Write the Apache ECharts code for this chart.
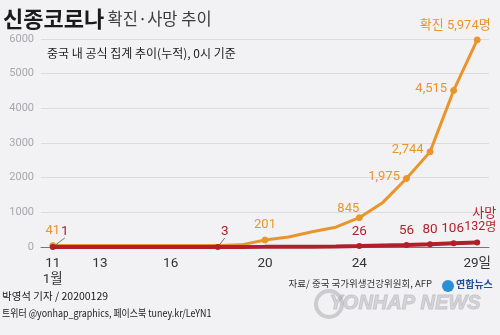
<!DOCTYPE html>
<html><head><meta charset="utf-8">
<script src="https://cdn.jsdelivr.net/npm/echarts@6/dist/echarts.min.js"></script>
<style>html,body{margin:0;padding:0;background:#f2f2f4}#c{width:500px;height:335px}</style>
</head><body><div id="c"></div>
<script>
const days = [11,12,13,14,15,16,17,18,19,20,21,22,23,24,25,26,27,28,29];
const confirmed = [41,41,41,41,41,41,41,45,62,201,291,440,571,845,1287,1975,2744,4515,5974];
const deaths = [1,1,1,1,1,1,1,3,3,4,6,9,17,26,41,56,80,106,132];
const shownDays = [11,13,16,20,24,29];
const confirmedMarked = [11,20,24,26,27,28,29];
const deathsMarked = [11,18,24,26,27,28,29];
const yTicks = [0,1000,2000,3000,4000,5000,6000];

const FONT = '"Noto Sans CJK KR", sans-serif';
const NUMFONT = '"Liberation Sans Narrow", Roboto, "Noto Sans CJK KR", sans-serif';
const ORANGE = '#e8952c';
const RED = '#b11f2a';

function fmt(n){return n.toLocaleString('en-US');}

// label nudges (style only), keyed by "series-day"
const nudges = {
  '0-24': {dx:-11, dy:6},
  '0-26': {dx:2, dy:-2},
  '0-27': {dx:2, dy:-2},
  '0-28': {dx:2, dy:-2},
  '0-29': {dx:-22, dy:1},
  '1-11': {dx:12, dy:-1},
  '1-18': {dx:7, dy:-1},
  '1-28': {dx:-1, dy:0},
  '1-29': {dx:3, dy:0}
};

const confData = confirmed.map((v,i)=>{
  const d = days[i];
  const item = {value: v};
  if (confirmedMarked.includes(d)) {
    item.symbol = 'circle';
    if (d === 29) {
      item.label = {show:true, formatter:'확진 ' + fmt(v) + '명', position:'top'};
    } else if (d === 26 || d === 27 || d === 28) {
      item.label = {show:true, position:'left'};
    } else {
      item.label = {show:true, position:'top'};
    }
  } else {
    item.symbol = 'none';
  }
  return item;
});
const deathData = deaths.map((v,i)=>{
  const d = days[i];
  const item = {value: v};
  if (deathsMarked.includes(d)) {
    item.symbol = 'circle';
    item.label = {show:true, position:'top'};
    if (d === 29) {
      item.label = {show:true, position:'top', formatter:'{a|사망}\n{b|' + v + '}{c|명}',
        rich:{
          a:{color:RED, fontSize:13, fontFamily:FONT, align:'right', lineHeight:15},
          b:{color:RED, fontSize:12.5, fontFamily:NUMFONT, lineHeight:15},
          c:{color:RED, fontSize:12, fontFamily:FONT, lineHeight:15}
        }};
    } else if (d === 11 || d === 18) {
      item.labelLine = {show:true, lineStyle:{color:'#555', width:0.8}};
    }
  } else {
    item.symbol = 'none';
  }
  return item;
});

const chart = echarts.init(document.getElementById('c'), null, {renderer:'canvas'});
chart.setOption({
  backgroundColor: '#f2f2f4',
  animation: false,
  textStyle: {fontFamily: FONT},
  grid: {left: 41, right: 11, top: 39, bottom: 88, containLabel: false},
  xAxis: {
    type: 'category',
    data: days.map(String),
    boundaryGap: true,
    axisLine: {lineStyle: {color: '#777', width: 1}},
    axisTick: {alignWithLabel: true, interval: 0, length: 5, lineStyle: {color: '#888'}},
    axisLabel: {
      interval: 0, color: '#333', fontSize: 13.5, fontFamily: NUMFONT, margin: 9, lineHeight: 16,
      formatter: function(val){
        const d = +val;
        if (!shownDays.includes(d)) return '';
        if (d === 11) return '11\n1월';
        if (d === 29) return '29일';
        return String(d);
      }
    }
  },
  yAxis: {
    type: 'value', min: 0, max: 6000, interval: 1000,
    axisLine: {show:false}, axisTick: {show:false},
    splitLine: {lineStyle: {color: '#dcdcdf', width: 1}},
    axisLabel: {color: '#a8a8ac', fontSize: 11, fontFamily: NUMFONT, margin: 7,
      formatter: function(v){ return yTicks.includes(v) ? String(v) : ''; }}
  },
  labelLayout: function(params){
    const key = params.seriesIndex + '-' + days[params.dataIndex];
    return nudges[key];
  },
  series: [
    {
      name: '확진', type: 'line', data: confData,
      symbolSize: 6, showSymbol: true,
      lineStyle: {color: ORANGE, width: 3},
      itemStyle: {color: ORANGE, borderColor: ORANGE},
      label: {color: ORANGE, fontSize: 13, fontFamily: NUMFONT, formatter: p => fmt(p.value)},
      z: 2
    },
    {
      name: '사망', type: 'line', data: deathData,
      symbolSize: 6, showSymbol: true,
      lineStyle: {color: RED, width: 4},
      itemStyle: {color: RED},
      label: {color: RED, fontSize: 13.5, fontFamily: NUMFONT, formatter: p => fmt(p.value)},
      labelLine: {show:false},
      z: 3
    }
  ],
  graphic: [
    {type:'text', left: 3, top: 8, style:{
      text:'{a|신종코로나} {b|확진·사망 추이}',
      rich:{a:{font:'bold 22px "Noto Sans CJK KR"', fill:'#1a1a1a'}, b:{font:'16.5px "Noto Sans CJK KR"', fill:'#3a3a3a'}}}},
    {type:'text', left: 47, top: 47, style:{text:'중국 내 공식 집계 추이(누적), 0시 기준', font:'12px "Noto Sans CJK KR"', fill:'#222'}},
    {type:'text', right: 68, top: 279, style:{text:'자료/ 중국 국가위생건강위원회, AFP', font:'9.5px "Noto Sans CJK KR"', fill:'#333'}},
    {type:'circle', shape:{cx:448, cy:286, r:6}, style:{fill:'#2c8fd6'}},
    {type:'text', left: 456, top: 279, style:{text:'연합뉴스', font:'bold 10px "Noto Sans CJK KR"', fill:'#1d4f9c'}},
    {type:'text', left: 329, top: 293, style:{text:'YONHAP NEWS', font:'italic bold 20px "Liberation Sans"', fill:'rgba(195,195,200,0.6)', stroke:'rgba(150,150,155,0.45)', lineWidth:1}, z: 100},
    {type:'circle', shape:{cx:329, cy:304, r:13}, style:{fill:'none', stroke:'rgba(165,165,170,0.5)', lineWidth:4}, z: 100},
    {type:'text', left: 2, top: 291, style:{text:'박영석 기자 / 20200129', font:'10.5px "Noto Sans CJK KR"', fill:'#222'}},
    {type:'text', x: 2, y: 308, scaleX: 0.85, style:{text:'트위터 @yonhap_graphics, 페이스북 tuney.kr/LeYN1', font:'10.5px "Noto Sans CJK KR"', fill:'#222'}}
  ]
});
</script></body></html>
